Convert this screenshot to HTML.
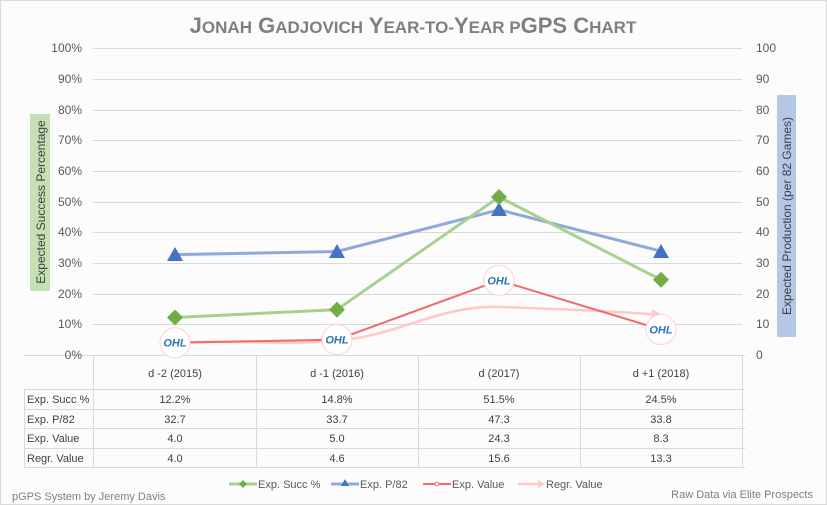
<!DOCTYPE html>
<html><head><meta charset="utf-8"><style>
html,body{margin:0;padding:0;background:#fff}
svg{display:block;font-family:"Liberation Sans",sans-serif}
</style></head><body>
<svg width="827" height="505" viewBox="0 0 827 505" xmlns="http://www.w3.org/2000/svg">
<rect x="0.5" y="0.5" width="826" height="504" fill="#fcfcfc" stroke="#d9d9d9"/>
<text x="413" y="33" text-anchor="middle" fill="#7f7f7f" font-weight="bold" font-size="22">J<tspan font-size="17">ONAH</tspan> G<tspan font-size="17">ADJOVICH</tspan> Y<tspan font-size="17">EAR-TO-</tspan>Y<tspan font-size="17">EAR P</tspan>GPS C<tspan font-size="17">HART</tspan></text>
<g stroke="#d9d9d9" stroke-width="1">
<line x1="93" x2="742" y1="48.5" y2="48.5"/><line x1="93" x2="742" y1="79.5" y2="79.5"/>
<line x1="93" x2="742" y1="110.5" y2="110.5"/><line x1="93" x2="742" y1="140.5" y2="140.5"/>
<line x1="93" x2="742" y1="171.5" y2="171.5"/><line x1="93" x2="742" y1="202.5" y2="202.5"/>
<line x1="93" x2="742" y1="232.5" y2="232.5"/><line x1="93" x2="742" y1="263.5" y2="263.5"/>
<line x1="93" x2="742" y1="294.5" y2="294.5"/><line x1="93" x2="742" y1="324.5" y2="324.5"/>
<line x1="24" x2="745" y1="355.5" y2="355.5"/>
<line x1="24" x2="745" y1="389.5" y2="389.5"/><line x1="24" x2="745" y1="409.5" y2="409.5"/>
<line x1="24" x2="745" y1="428.5" y2="428.5"/><line x1="24" x2="745" y1="448.5" y2="448.5"/>
<line x1="24" x2="745" y1="467.5" y2="467.5"/>
<line x1="24.5" x2="24.5" y1="389" y2="467"/><line x1="93.5" x2="93.5" y1="355" y2="467"/>
<line x1="256.5" x2="256.5" y1="355" y2="467"/><line x1="418.5" x2="418.5" y1="355" y2="467"/>
<line x1="580.5" x2="580.5" y1="355" y2="467"/><line x1="742.5" x2="742.5" y1="355" y2="467"/>
</g>
<g font-size="12" fill="#595959" text-anchor="end">
<text x="82" y="52">100%</text><text x="82" y="83">90%</text><text x="82" y="114">80%</text>
<text x="82" y="144">70%</text><text x="82" y="175">60%</text><text x="82" y="206">50%</text>
<text x="82" y="236">40%</text><text x="82" y="267">30%</text><text x="82" y="298">20%</text>
<text x="82" y="328">10%</text><text x="82" y="359">0%</text>
</g>
<g font-size="12" fill="#595959" text-anchor="start">
<text x="756" y="52">100</text><text x="756" y="83">90</text><text x="756" y="114">80</text>
<text x="756" y="144">70</text><text x="756" y="175">60</text><text x="756" y="206">50</text>
<text x="756" y="236">40</text><text x="756" y="267">30</text><text x="756" y="298">20</text>
<text x="756" y="328">10</text><text x="756" y="359">0</text>
</g>
<rect x="30" y="114" width="20" height="177" fill="#c5e0b4"/>
<text transform="translate(45,202) rotate(-90)" text-anchor="middle" font-size="12" fill="#404040">Expected Success Percentage</text>
<rect x="777" y="95" width="19" height="242" fill="#b4c7e7"/>
<text transform="translate(791,216) rotate(-90)" text-anchor="middle" font-size="12" fill="#404040">Expected Production (per 82 Games)</text>
<!-- series -->
<path d="M175,342.7 C230,340 290,345 337,340.9 C400,335 440,305 499,307 C560,309 620,312 652,314.2" fill="none" stroke="#ffc7c7" stroke-width="2.5"/>
<path d="M652,309 L661,314.2 L652,319 Z" fill="#ffc7c7"/>
<polyline points="175,342.7 337,339.6 499,280.4 661,329.5" fill="none" stroke="#f06a6a" stroke-width="2"/>
<polyline points="175,254.6 337,251.5 499,209.8 661,251.2" fill="none" stroke="#8eaadb" stroke-width="3"/>
<polyline points="175,317.5 337,309.6 499,197 661,279.8" fill="none" stroke="#a9d18e" stroke-width="3"/>
<g fill="#4472c4">
<path d="M175,247 L183,261 L167,261Z"/><path d="M337,244 L345,258 L329,258Z"/>
<path d="M499,202 L507,216 L491,216Z"/><path d="M661,244 L669,258 L653,258Z"/>
</g>
<g fill="#70ad47">
<path d="M175,309.5 L183,317.5 L175,325.5 L167,317.5Z"/><path d="M337,301.6 L345,309.6 L337,317.6 L329,309.6Z"/>
<path d="M499,189 L507,197 L499,205 L491,197Z"/><path d="M661,271.8 L669,279.8 L661,287.8 L653,279.8Z"/>
</g>
<g font-size="11" font-weight="bold" font-style="italic" fill="#2e75b6" text-anchor="middle">
<circle cx="175" cy="342.7" r="15" fill="#fff" stroke="#ffd0d0"/><text x="175" y="346.5">OHL</text>
<circle cx="337" cy="339.6" r="15" fill="#fff" stroke="#ffd0d0"/><text x="337" y="343.5">OHL</text>
<circle cx="499" cy="280.4" r="15" fill="#fff" stroke="#ffd0d0"/><text x="499" y="284.5">OHL</text>
<circle cx="661" cy="329.5" r="15" fill="#fff" stroke="#ffd0d0"/><text x="661" y="333.5">OHL</text>
</g>
<g font-size="11" fill="#404040">
<text x="175" y="377" text-anchor="middle">d -2 (2015)</text><text x="337" y="377" text-anchor="middle">d -1 (2016)</text>
<text x="499" y="377" text-anchor="middle">d (2017)</text><text x="661" y="377" text-anchor="middle">d +1 (2018)</text>
<text x="27" y="403">Exp. Succ %</text><text x="27" y="423">Exp. P/82</text>
<text x="27" y="442">Exp. Value</text><text x="27" y="462">Regr. Value</text>
<g text-anchor="middle">
<text x="175" y="403">12.2%</text><text x="337" y="403">14.8%</text><text x="499" y="403">51.5%</text><text x="661" y="403">24.5%</text>
<text x="175" y="423">32.7</text><text x="337" y="423">33.7</text><text x="499" y="423">47.3</text><text x="661" y="423">33.8</text>
<text x="175" y="442">4.0</text><text x="337" y="442">5.0</text><text x="499" y="442">24.3</text><text x="661" y="442">8.3</text>
<text x="175" y="462">4.0</text><text x="337" y="462">4.6</text><text x="499" y="462">15.6</text><text x="661" y="462">13.3</text>
</g>
</g>
<g font-size="11" fill="#595959">
<line x1="229" x2="257" y1="484" y2="484" stroke="#a9d18e" stroke-width="3"/><path d="M243,480 L247,484 L243,488 L239,484Z" fill="#70ad47"/>
<text x="258" y="488">Exp. Succ %</text>
<line x1="331" x2="359" y1="484" y2="484" stroke="#8eaadb" stroke-width="3"/><path d="M345,479 L349,486 L341,486Z" fill="#4472c4"/>
<text x="360" y="488">Exp. P/82</text>
<line x1="423" x2="451" y1="484" y2="484" stroke="#f06a6a" stroke-width="2"/><circle cx="437" cy="484" r="2" fill="#fff" stroke="#f06a6a"/>
<text x="452" y="488">Exp. Value</text>
<line x1="518" x2="540" y1="484" y2="484" stroke="#ffc7c7" stroke-width="2.5"/><path d="M538,480 L545,484 L538,488Z" fill="#ffc7c7"/>
<text x="546" y="488">Regr. Value</text>
<text x="12" y="500" fill="#7f7f7f">pGPS System by Jeremy Davis</text>
<text x="813" y="498" fill="#7f7f7f" text-anchor="end">Raw Data via Elite Prospects</text>
</g>
</svg>
</body></html>
